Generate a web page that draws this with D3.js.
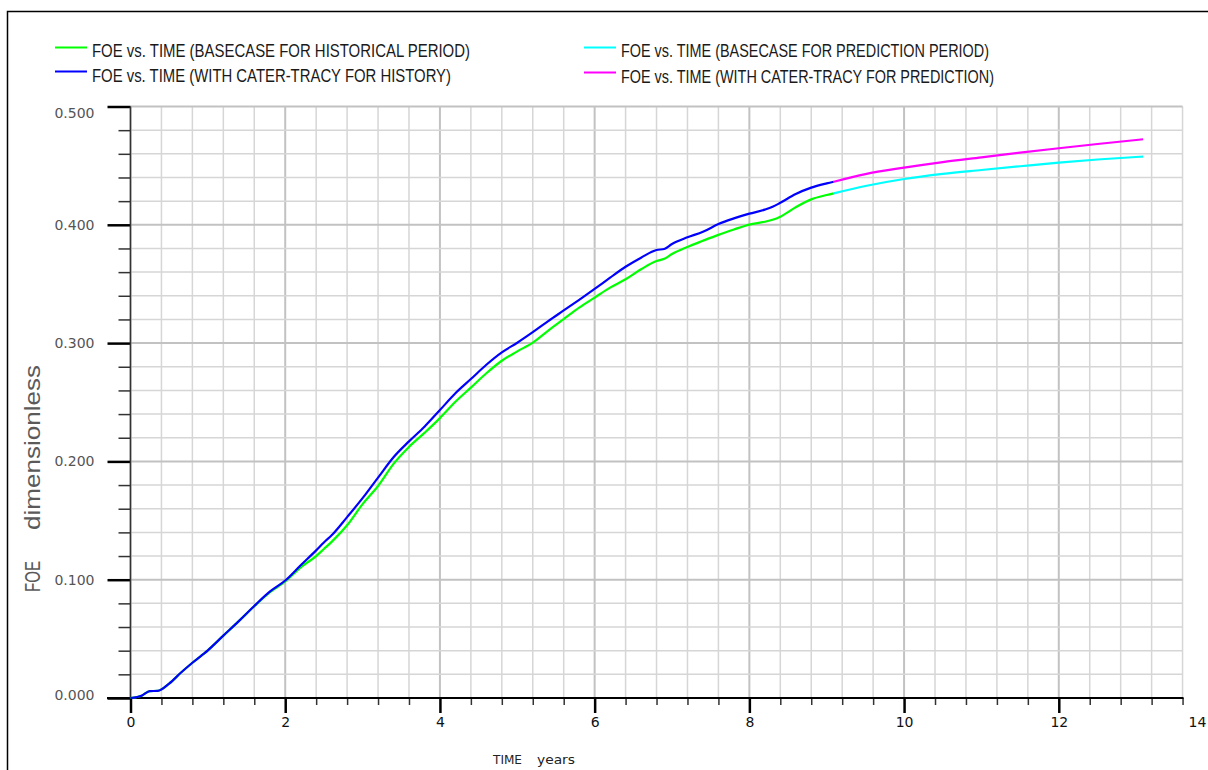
<!DOCTYPE html>
<html>
<head>
<meta charset="utf-8">
<script src="https://cdn.jsdelivr.net/npm/d3@7"></script>
<style>
  html, body { margin: 0; padding: 0; background: #fff; overflow: hidden; }
  svg { display: block; }
  .legend text { font-family: "Liberation Sans", Arial, sans-serif; font-size: 17.5px; fill: #1a1a1a; }
  .tick text { font-family: "DejaVu Sans", sans-serif; font-size: 14px; }
</style>
</head>
<body>
<svg id="chart" width="1208" height="770"></svg>
<script>
// ---- data ----
const timeHist = [0, 0.15, 0.25, 0.35, 0.5, 0.65, 0.8, 1.0, 1.2, 1.4, 1.6, 1.8, 2.0, 2.2, 2.4, 2.5, 2.6,
  2.8, 3.0, 3.2, 3.4, 3.6, 3.8, 4.0, 4.2, 4.4, 4.6, 4.8, 5.0, 5.2, 5.4, 5.6, 5.8, 6.0, 6.2, 6.4,
  6.6, 6.8, 6.9, 7.0, 7.2, 7.4, 7.6, 7.8, 8.0, 8.2, 8.3, 8.4, 8.6, 8.8, 9.0, 9.09];
const foeBaseHist = [0, 0.0022, 0.0058, 0.006, 0.0122, 0.0213, 0.0298, 0.0403, 0.0527, 0.065, 0.0776, 0.0893, 0.0985, 0.1105, 0.1200, 0.1260, 0.1320,
  0.1460, 0.1639, 0.1792, 0.1979, 0.2122, 0.2241, 0.2366, 0.2504, 0.2624, 0.2745, 0.2851, 0.2930, 0.3004, 0.3106, 0.3203, 0.3300, 0.3385, 0.3469, 0.3540,
  0.3624, 0.3694, 0.3712, 0.3753, 0.3813, 0.3865, 0.3915, 0.3960, 0.4002, 0.4026, 0.4043, 0.4069, 0.4149, 0.4215, 0.4252, 0.4266];
const foeCaterHist = [0, 0.0022, 0.0058, 0.006, 0.0122, 0.0213, 0.0298, 0.0403, 0.0527, 0.065, 0.0778, 0.0899, 0.0993, 0.1122, 0.1248, 0.1315, 0.1375,
  0.1529, 0.1689, 0.1863, 0.2035, 0.2169, 0.2293, 0.2434, 0.2576, 0.2696, 0.2817, 0.2922, 0.3003, 0.3092, 0.3186, 0.3276, 0.3366, 0.3458, 0.3553, 0.3645,
  0.3722, 0.3787, 0.3795, 0.3838, 0.3894, 0.3941, 0.4006, 0.4054, 0.4094, 0.4128, 0.4152, 0.4186, 0.4260, 0.4314, 0.4350, 0.4364];

const timePred = [9.09, 9.5, 10, 10.5, 11, 11.5, 12, 12.5, 13.09];
const foeBasePred = [0.4266, 0.4328, 0.4387, 0.4430, 0.4463, 0.4495, 0.4526, 0.4552, 0.4577];
const foeCaterPred = [0.4364, 0.4429, 0.4483, 0.4530, 0.4570, 0.4610, 0.4647, 0.4683, 0.4723];

const xMajor = [0, 2, 4, 6, 8, 10, 12, 14];
const yMajor = [0, 0.1, 0.2, 0.3, 0.4, 0.5];

const seriesNames = [
  'FOE vs. TIME (BASECASE FOR HISTORICAL PERIOD)',
  'FOE vs. TIME (WITH CATER-TRACY FOR HISTORY)',
  'FOE vs. TIME (BASECASE FOR PREDICTION PERIOD)',
  'FOE vs. TIME (WITH CATER-TRACY FOR PREDICTION)'
];
const seriesColors = ['#00ff00', '#0000ff', '#00ffff', '#ff00ff'];

// ---- layout ----
const W = 1208, H = 770;
const svg = d3.select('#chart');

const x = d3.scaleLinear().domain([0, 14]).range([130.5, 1213.5]);
const y = d3.scaleLinear().domain([0, 0.5]).range([698, 106.5]);
const xGridEnd = 13.6;

// outer frame
svg.append('rect')
  .attr('x', 7.5).attr('y', 11.5)
  .attr('width', W + 20).attr('height', H + 20)
  .attr('fill', 'none').attr('stroke', '#000').attr('stroke-width', 1.5);

// ---- grid ----
const xGrid = d3.range(0, 35).map(i => +(i * 0.4).toFixed(1));   // 0 .. 13.6
const yGrid = d3.range(0, 26).map(i => +(i * 0.02).toFixed(2));  // 0 .. 0.5
const grid = svg.append('g');

grid.selectAll('.gv').data(xGrid).join('line')
  .attr('x1', d => x(d)).attr('x2', d => x(d))
  .attr('y1', y(0)).attr('y2', y(0.5))
  .attr('stroke', (d, i) => i % 5 === 0 ? '#c2c2c2' : '#d6d6d6')
  .attr('stroke-width', (d, i) => i % 5 === 0 ? 2 : 1.5);

grid.selectAll('.gh').data(yGrid).join('line')
  .attr('x1', x(0)).attr('x2', x(xGridEnd))
  .attr('y1', d => y(d)).attr('y2', d => y(d))
  .attr('stroke', (d, i) => i % 5 === 0 ? '#c2c2c2' : '#d6d6d6')
  .attr('stroke-width', (d, i) => i % 5 === 0 ? 2 : 1.5);

// ---- axes ----
const xMinor = xGrid.filter((d, i) => i % 5 !== 0);
const yMinor = yGrid.filter((d, i) => i % 5 !== 0);

const gx = svg.append('g').attr('transform', `translate(0,${y(0)})`);
gx.append('g').call(d3.axisBottom(x).tickValues(xMinor).tickSize(7).tickFormat(''))
  .call(g => g.select('.domain').remove())
  .call(g => g.selectAll('line').attr('stroke', '#333').attr('stroke-width', 1.5));
gx.append('g').call(d3.axisBottom(x).tickValues(xMajor).tickSize(15).tickPadding(4).tickFormat(d3.format('d')))
  .call(g => g.select('.domain').remove())
  .call(g => g.selectAll('line').attr('stroke', '#000').attr('stroke-width', 2.5))
  .call(g => g.selectAll('text').attr('fill', '#111')
    .attr('x', d => Math.min(0, 1197 - x(d))));
gx.append('line')
  .attr('x1', 107).attr('x2', x(xGridEnd) + 1)
  .attr('stroke', '#000').attr('stroke-width', 2);

const gy = svg.append('g').attr('transform', `translate(${x(0)},0)`);
gy.append('g').call(d3.axisLeft(y).tickValues(yMinor).tickSize(12).tickFormat(''))
  .call(g => g.select('.domain').remove())
  .call(g => g.selectAll('line').attr('stroke', '#333').attr('stroke-width', 1.5));
gy.append('g').call(d3.axisLeft(y).tickValues(yMajor).tickSize(23).tickPadding(13).tickFormat(d3.format('.3f')))
  .call(g => g.select('.domain').remove())
  .call(g => g.selectAll('line').attr('stroke', '#000').attr('stroke-width', 2.5))
  .call(g => g.selectAll('text').attr('fill', '#555')
    .attr('dy', d => d === 0.5 ? '0.75em' : (d === 0 ? '0.1em' : '0.32em')));
gy.append('line')
  .attr('y1', y(0.5)).attr('y2', y(0))
  .attr('stroke', '#333').attr('stroke-width', 1.5);

// axis titles
const tFont = '"DejaVu Sans", sans-serif';
svg.append('text').attr('x', 493).attr('y', 764)
  .attr('font-family', tFont).attr('font-size', 13).attr('fill', '#222')
  .attr('textLength', 29).attr('lengthAdjust', 'spacingAndGlyphs').text('TIME');
svg.append('text').attr('x', 537).attr('y', 764)
  .attr('font-family', tFont).attr('font-size', 13).attr('fill', '#222')
  .attr('textLength', 38).attr('lengthAdjust', 'spacingAndGlyphs').text('years');

const yt = svg.append('g').attr('transform', 'translate(39.5,0) rotate(-90)')
  .attr('font-family', '"Liberation Sans", Arial, sans-serif').attr('font-size', 22).attr('fill', '#5a5a5a');
yt.append('text').attr('x', -592).attr('y', 0)
  .attr('textLength', 31).attr('lengthAdjust', 'spacingAndGlyphs').text('FOE');
yt.append('text').attr('x', -530).attr('y', 0)
  .attr('textLength', 165).attr('lengthAdjust', 'spacingAndGlyphs').text('dimensionless');

// ---- curves ----
const line = d3.line().x(d => x(d[0])).y(d => y(d[1])).curve(d3.curveMonotoneX);
const curves = [
  { t: timeHist, v: foeBaseHist, c: seriesColors[0] },
  { t: timeHist, v: foeCaterHist, c: seriesColors[1] },
  { t: timePred, v: foeBasePred, c: seriesColors[2] },
  { t: timePred, v: foeCaterPred, c: seriesColors[3] }
];
svg.append('g').selectAll('path').data(curves).join('path')
  .attr('d', s => line(s.t.map((t, i) => [t, s.v[i]])))
  .attr('fill', 'none')
  .attr('stroke', s => s.c)
  .attr('stroke-width', 2.2)
  .attr('stroke-linejoin', 'round');

// ---- legend ----
const legendPos = [
  { lx: 55, ly: 47.5, tx: 92, ty: 56.5, w: 378 },
  { lx: 55, ly: 71.5, tx: 92, ty: 81.5, w: 359 },
  { lx: 584, ly: 47.5, tx: 621, ty: 56.5, w: 368 },
  { lx: 584, ly: 72.5, tx: 621, ty: 82.5, w: 373 }
];
const lg = svg.append('g').attr('class', 'legend');
seriesNames.forEach((name, i) => {
  const p = legendPos[i];
  lg.append('line')
    .attr('x1', p.lx).attr('x2', p.lx + 32)
    .attr('y1', p.ly).attr('y2', p.ly)
    .attr('stroke', seriesColors[i]).attr('stroke-width', 2);
  lg.append('text')
    .attr('x', p.tx).attr('y', p.ty)
    .attr('textLength', p.w).attr('lengthAdjust', 'spacingAndGlyphs')
    .text(name);
});
</script>
</body>
</html>
